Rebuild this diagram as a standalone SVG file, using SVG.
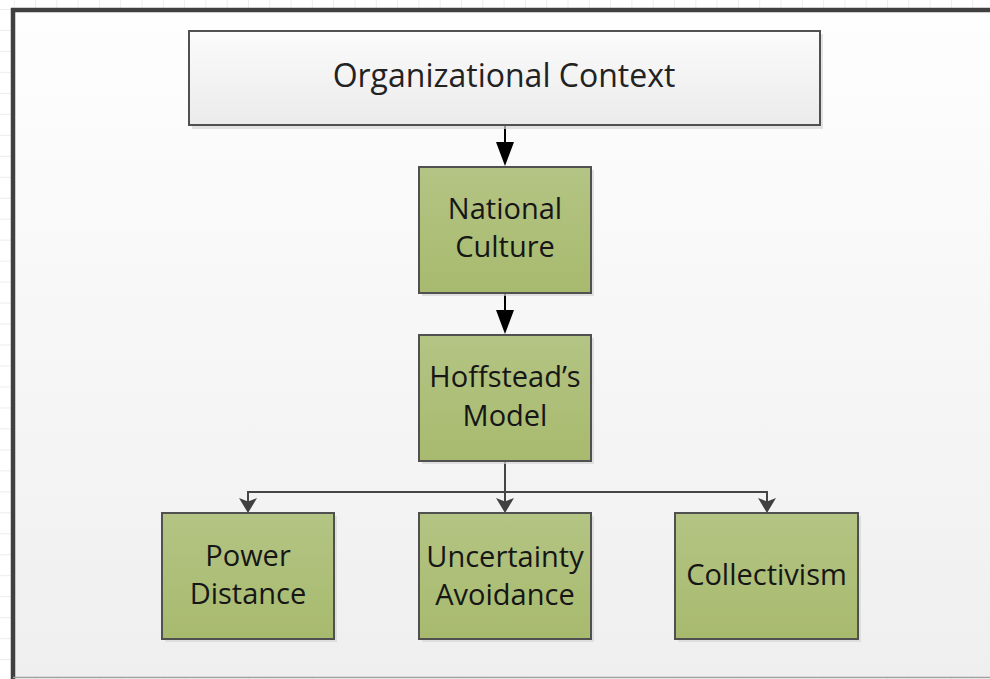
<svg xmlns="http://www.w3.org/2000/svg" width="990" height="679" viewBox="0 0 990 679">
<defs>
  <linearGradient id="bgGrad" x1="0" y1="0" x2="0" y2="1">
    <stop offset="0" stop-color="#fefefe"/>
    <stop offset="1" stop-color="#efefef"/>
  </linearGradient>
  <linearGradient id="greyGrad" x1="0" y1="0" x2="0" y2="1">
    <stop offset="0" stop-color="#fbfbfb"/>
    <stop offset="1" stop-color="#ebebeb"/>
  </linearGradient>
  <linearGradient id="greenGrad" x1="0" y1="0" x2="0" y2="1">
    <stop offset="0" stop-color="#b4c484"/>
    <stop offset="1" stop-color="#a8ba6e"/>
  </linearGradient>
  <pattern id="grid" x="13.7" y="9" width="21.3" height="20.97" patternUnits="userSpaceOnUse">
    <path d="M0,0 V20.97 M0,0 H21.3" fill="none" stroke="#dcdcdc" stroke-width="1"/>
  </pattern>
  <marker id="bigHead" markerUnits="userSpaceOnUse" markerWidth="20" markerHeight="26" refX="9" refY="24" orient="auto-start-reverse" viewBox="0 0 18 24">
    <path d="M0,0 L18,0 L9,24 Z" fill="#000"/>
  </marker>
  <style>
    .box { stroke: #505050; stroke-width: 2; }
    .green { fill: url(#greenGrad); }
    .grey { fill: url(#greyGrad); }
    .shadow { fill: #d6d6d6; opacity: 0.7; }
    .lbl { font-family: "Open Sans", "Noto Sans", "Liberation Sans", sans-serif; font-size: 29px; fill: #161616; text-anchor: middle; }
    .title { font-size: 32px; fill: #222; }
    .conn-main { stroke: #000; stroke-width: 2; fill: none; }
    .conn-sub { stroke: #454545; stroke-width: 2; fill: none; }
    .subhead { fill: #404040; }
  </style>
</defs>

<!-- page background with ruler grid -->
<rect x="0" y="0" width="990" height="679" fill="#ffffff"/>
<rect x="0" y="0" width="990" height="679" fill="url(#grid)"/>

<!-- frame -->
<rect x="13" y="10" width="980" height="667.5" fill="url(#bgGrad)"/>
<line x1="13" y1="8" x2="13" y2="679" stroke="#404040" stroke-width="4.5"/>
<line x1="11" y1="10" x2="990" y2="10" stroke="#404040" stroke-width="4.5"/>
<line x1="13" y1="677.5" x2="990" y2="677.5" stroke="#a0a0a0" stroke-width="1.5"/>

<!-- connectors -->
<g id="connectors">
  <line class="conn-main" x1="505" y1="125" x2="505" y2="143"/>
  <path d="M496,142 L514,142 L505,166 Z" fill="#000"/>
  <line class="conn-main" x1="505" y1="293" x2="505" y2="311"/>
  <path d="M496,310 L514,310 L505,334 Z" fill="#000"/>
  <path class="conn-sub" d="M505,461 V502 M248,502 V492 H767 V502"/>
  <path class="subhead" d="M248,513 L239,498 L248,501.5 L257,498 Z"/>
  <path class="subhead" d="M505,513 L496,498 L505,501.5 L514,498 Z"/>
  <path class="subhead" d="M767,513 L758,498 L767,501.5 L776,498 Z"/>
</g>

<g id="node-org-context">
  <rect class="shadow" x="192" y="34" width="631" height="95"/>
  <rect class="box grey" x="189" y="31" width="631" height="94"/>
  <text class="lbl title" x="504" y="87">Organizational Context</text>
</g>

<g id="node-national-culture">
  <rect class="shadow" x="422" y="170" width="172" height="126"/>
  <rect class="box green" x="419" y="167" width="172" height="126"/>
  <text class="lbl" x="505" y="219">National</text>
  <text class="lbl" x="505" y="257">Culture</text>
</g>

<g id="node-hoffstead">
  <rect class="shadow" x="422" y="338" width="172" height="126"/>
  <rect class="box green" x="419" y="335" width="172" height="126"/>
  <text class="lbl" x="505" y="387">Hoffstead’s</text>
  <text class="lbl" x="505" y="426">Model</text>
</g>

<g id="node-power-distance">
  <rect class="shadow" x="165" y="516" width="172" height="126"/>
  <rect class="box green" x="162" y="513" width="172" height="126"/>
  <text class="lbl" x="248" y="566">Power</text>
  <text class="lbl" x="248" y="604">Distance</text>
</g>

<g id="node-uncertainty">
  <rect class="shadow" x="422" y="516" width="172" height="126"/>
  <rect class="box green" x="419" y="513" width="172" height="126"/>
  <text class="lbl" x="505" y="567">Uncertainty</text>
  <text class="lbl" x="505" y="605">Avoidance</text>
</g>

<g id="node-collectivism">
  <rect class="shadow" x="678" y="516" width="183" height="126"/>
  <rect class="box green" x="675" y="513" width="183" height="126"/>
  <text class="lbl" x="766.5" y="585">Collectivism</text>
</g>
</svg>
